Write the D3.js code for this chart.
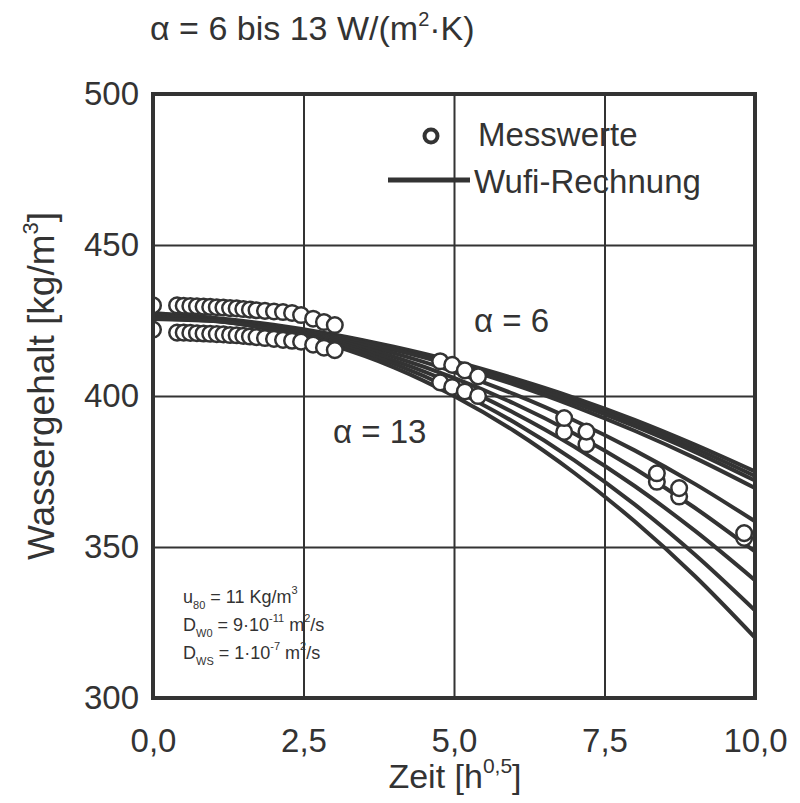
<!DOCTYPE html>
<html>
<head>
<meta charset="utf-8">
<script src="https://cdn.jsdelivr.net/npm/d3@7"></script>
<style>
  body { margin: 0; background: #fff; }
  text { font-family: "Liberation Sans", Arial, sans-serif; fill: #333; }
</style>
</head>
<body>
<div id="chart"></div>
<script>
// Achsen
const xTicks = [0, 2.5, 5, 7.5, 10];
const yTicks = [300, 350, 400, 450, 500];

// Messwerte (Zeit in h^0,5, obere und untere Probe)
const messZeit = [0, 0.40, 0.51, 0.62, 0.73, 0.84, 0.95, 1.06, 1.17, 1.28, 1.39, 1.50, 1.61, 1.72, 1.86, 2.01, 2.16, 2.31, 2.46, 2.66, 2.84, 3.02,
  4.77, 4.97, 5.18, 5.40, 6.83, 7.20, 8.37, 8.74, 9.82];
const messOben = [430, 430, 429.9, 429.8, 429.7, 429.6, 429.5, 429.4, 429.3, 429.1, 429.0, 428.8, 428.6, 428.4, 428.2, 428.0, 427.8, 427.5, 426.8, 425.6, 424.5, 423.5,
  411.5, 410.3, 408.5, 406.5, 392.7, 388.2, 374.4, 369.5, 354.6];
const messUnten = [422, 421.0, 421.0, 420.9, 420.8, 420.7, 420.6, 420.5, 420.4, 420.2, 420.1, 419.9, 419.7, 419.5, 419.2, 418.9, 418.6, 418.3, 418.0, 417.0, 416.0, 415.2,
  404.5, 403.0, 401.5, 400.0, 388.1, 384.0, 371.6, 366.7, 353.0];

// Wufi-Rechnung, alpha = 6 ... 13
const rechZeit = [0, 1, 2, 3, 4, 5, 6, 7, 8, 9, 10];
const wufi1 = [427.5, 425.9, 423.6, 420.4, 416.3, 411.5, 405.8, 399.4, 392.1, 383.9, 375.0];
const wufi2 = [427.3, 425.7, 423.3, 420.1, 416.0, 411.0, 405.2, 398.5, 391.0, 382.7, 373.5];
const wufi3 = [427.0, 425.5, 423.0, 419.7, 415.6, 410.5, 404.6, 397.7, 390.0, 381.5, 372.0];
const wufi4 = [426.8, 425.3, 422.9, 419.6, 415.3, 410.0, 403.8, 396.6, 388.5, 379.5, 369.5];
const wufi5 = [426.5, 425.3, 422.8, 419.1, 414.2, 408.0, 400.6, 391.9, 382.0, 370.9, 358.5];
const wufi6 = [426.2, 425.1, 422.6, 418.6, 413.0, 406.0, 397.5, 387.5, 376.0, 363.0, 348.5];
const wufi7 = [426.0, 425.0, 422.4, 418.0, 411.8, 404.0, 394.4, 383.2, 370.2, 355.4, 339.0];
const wufi8 = [425.7, 424.9, 422.1, 417.4, 410.7, 402.0, 391.3, 378.7, 364.1, 347.5, 329.0];
const wufi9 = [425.5, 424.8, 421.8, 416.7, 409.5, 400.0, 388.4, 374.5, 358.5, 340.4, 320.0];
const wufiKurven = [wufi1, wufi2, wufi3, wufi4, wufi5, wufi6, wufi7, wufi8, wufi9];

const width = 800;
const height = 803;
const ink = "#333";
const schrift = "'Liberation Sans', Arial, sans-serif";

const svg = d3.select("#chart").append("svg")
  .attr("width", width)
  .attr("height", height);

const x = d3.scaleLinear().domain([0, 10]).range([153, 755]);
const y = d3.scaleLinear().domain([300, 500]).range([698, 94]);

const komma = d => d3.format(".1f")(d).replace(".", ",");

// Zeichenfläche zum Abschneiden der Kreise am Rand
svg.append("defs").append("clipPath")
  .attr("id", "flaeche")
  .append("rect")
  .attr("x", x(0)).attr("y", y(500))
  .attr("width", x(10) - x(0)).attr("height", y(300) - y(500));

// Gitterlinien
svg.append("g")
  .attr("transform", `translate(0, ${y(300)})`)
  .call(d3.axisBottom(x).tickValues(xTicks.slice(1, -1)).tickSize(-(y(300) - y(500))).tickFormat(""))
  .call(g => g.select(".domain").remove())
  .call(g => g.selectAll("line").attr("stroke", ink).attr("stroke-width", 2));

svg.append("g")
  .attr("transform", `translate(${x(0)}, 0)`)
  .call(d3.axisLeft(y).tickValues(yTicks.slice(1, -1)).tickSize(-(x(10) - x(0))).tickFormat(""))
  .call(g => g.select(".domain").remove())
  .call(g => g.selectAll("line").attr("stroke", ink).attr("stroke-width", 2));

// Achsenbeschriftung
svg.append("g")
  .attr("transform", `translate(0, ${y(300)})`)
  .call(d3.axisBottom(x).tickValues(xTicks).tickSize(0).tickPadding(31).tickFormat(komma))
  .call(g => g.select(".domain").remove())
  .call(g => g.selectAll("text").attr("font-size", 33).attr("fill", ink).style("font-family", schrift));

svg.append("g")
  .attr("transform", `translate(${x(0)}, 0)`)
  .call(d3.axisLeft(y).tickValues(yTicks).tickSize(0).tickPadding(14).tickFormat(d3.format("d")))
  .call(g => g.select(".domain").remove())
  .call(g => g.selectAll("text").attr("font-size", 33).attr("fill", ink).style("font-family", schrift));

// Kurven
const linie = d3.line()
  .x((d, i) => x(rechZeit[i]))
  .y(d => y(d))
  .curve(d3.curveMonotoneX);

svg.append("g")
  .selectAll("path")
  .data(wufiKurven)
  .enter().append("path")
  .attr("d", linie)
  .attr("fill", "none")
  .attr("stroke", ink)
  .attr("stroke-width", 4);

// Messwerte: erst untere, dann obere Reihe
const kreise = svg.append("g").attr("clip-path", "url(#flaeche)");
[messUnten, messOben].forEach(reihe => {
  kreise.selectAll(null)
    .data(reihe)
    .enter().append("circle")
    .attr("cx", (d, i) => x(messZeit[i]))
    .attr("cy", d => y(d))
    .attr("r", 7.8)
    .attr("fill", "#fff")
    .attr("stroke", ink)
    .attr("stroke-width", 2.5);
});

// Rahmen
svg.append("rect")
  .attr("x", x(0)).attr("y", y(500))
  .attr("width", x(10) - x(0)).attr("height", y(300) - y(500))
  .attr("fill", "none")
  .attr("stroke", ink)
  .attr("stroke-width", 4);

// Titel
const titel = svg.append("text").attr("x", 150).attr("y", 40).attr("font-size", 34);
titel.append("tspan").text("α = 6 bis 13 W/(m");
titel.append("tspan").attr("font-size", 20).attr("dy", -14).text("2");
titel.append("tspan").attr("dy", 14).text("·K)");

// Achsentitel
const xTitel = svg.append("text").attr("x", 455).attr("y", 788).attr("text-anchor", "middle").attr("font-size", 34);
xTitel.append("tspan").text("Zeit [h");
xTitel.append("tspan").attr("font-size", 21).attr("dy", -15).text("0,5");
xTitel.append("tspan").attr("dy", 15).text("]");

const yTitel = svg.append("text")
  .attr("transform", `translate(54, ${(y(300) + y(500)) / 2 - 10}) rotate(-90)`)
  .attr("text-anchor", "middle").attr("font-size", 37);
yTitel.append("tspan").text("Wassergehalt [kg/m");
yTitel.append("tspan").attr("font-size", 22).attr("dy", -16).text("3");
yTitel.append("tspan").attr("dy", 16).text("]");

// Legende
svg.append("circle")
  .attr("cx", 431).attr("cy", 136).attr("r", 6.5)
  .attr("fill", "#fff").attr("stroke", ink).attr("stroke-width", 4);
svg.append("text").attr("x", 478).attr("y", 146).attr("font-size", 33).text("Messwerte");
svg.append("line")
  .attr("x1", 388).attr("x2", 470).attr("y1", 180).attr("y2", 180)
  .attr("stroke", ink).attr("stroke-width", 5);
svg.append("text").attr("x", 474).attr("y", 193).attr("font-size", 33).text("Wufi-Rechnung");

// Kurvenbezeichnungen
svg.append("text").attr("x", 474).attr("y", 332).attr("font-size", 33).text("α = 6");
svg.append("text").attr("x", 333).attr("y", 443).attr("font-size", 33).text("α = 13");

// Materialkennwerte
const kennwerte = svg.append("g").attr("font-size", 18);
const k1 = kennwerte.append("text").attr("x", 183).attr("y", 603);
k1.append("tspan").text("u");
k1.append("tspan").attr("font-size", 11).attr("dy", 6).text("80");
k1.append("tspan").attr("dy", -6).text(" = 11 Kg/m");
k1.append("tspan").attr("font-size", 11).attr("dy", -9).text("3");

const k2 = kennwerte.append("text").attr("x", 183).attr("y", 631);
k2.append("tspan").text("D");
k2.append("tspan").attr("font-size", 11).attr("dy", 6).text("W0");
k2.append("tspan").attr("dy", -6).text(" = 9·10");
k2.append("tspan").attr("font-size", 11).attr("dy", -9).text("-11");
k2.append("tspan").attr("dy", 9).text(" m");
k2.append("tspan").attr("font-size", 11).attr("dy", -9).text("2");
k2.append("tspan").attr("dy", 9).text("/s");

const k3 = kennwerte.append("text").attr("x", 183).attr("y", 659);
k3.append("tspan").text("D");
k3.append("tspan").attr("font-size", 11).attr("dy", 6).text("WS");
k3.append("tspan").attr("dy", -6).text(" = 1·10");
k3.append("tspan").attr("font-size", 11).attr("dy", -9).text("-7");
k3.append("tspan").attr("dy", 9).text(" m");
k3.append("tspan").attr("font-size", 11).attr("dy", -9).text("2");
k3.append("tspan").attr("dy", 9).text("/s");
</script>
</body>
</html>
